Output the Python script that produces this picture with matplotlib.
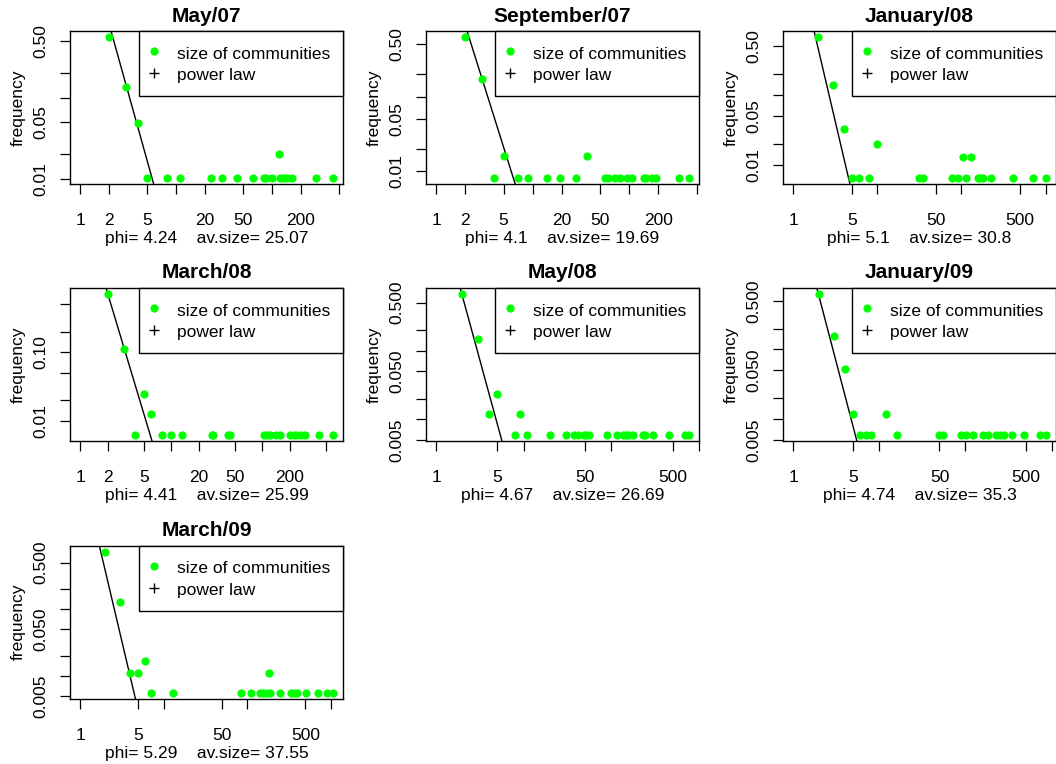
import matplotlib
matplotlib.use("Agg")
import matplotlib.pyplot as plt
from matplotlib.lines import Line2D
import numpy as np

plt.rcParams['font.family'] = ['Liberation Sans', 'DejaVu Sans']

# ---------------- data ----------------
titles = ["May/07", "September/07", "January/08", "March/08",
          "May/08", "January/09", "March/09"]
phi = [4.24, 4.1, 5.1, 4.41, 4.67, 4.74, 5.29]
av_size = [25.07, 19.69, 30.8, 25.99, 26.69, 35.3, 37.55]
plaw_log_c = [1.19, 1.19, 1.18, 1.19, 1.195, 1.19, 1.17]

sizes_may07 = [2, 3, 4, 5, 8, 11, 23, 30, 43, 64, 82, 87, 101, 119, 123, 133, 145, 164, 290, 434]
freq_may07 = [0.561, 0.134, 0.0485, 0.0102, 0.0102, 0.0102, 0.0102, 0.0102, 0.0102, 0.0102,
              0.0102, 0.0102, 0.0102, 0.02, 0.0102, 0.0102, 0.0102, 0.0102, 0.0102, 0.0102]

sizes_sep07 = [2, 3, 4, 5, 7, 9, 14, 19, 28, 37, 56, 60, 71, 81, 95, 108, 143, 150, 171, 188, 330, 416]
freq_sep07 = [0.626, 0.174, 0.0081, 0.016, 0.0081, 0.0081, 0.0081, 0.0081, 0.0081, 0.016, 0.0081,
              0.0081, 0.0081, 0.0081, 0.0081, 0.0081, 0.0081, 0.0081, 0.0081, 0.0081, 0.0081, 0.0081]

sizes_jan08 = [2, 3, 4, 5, 6, 8, 10, 31, 35, 77, 90, 105, 113, 129, 158, 168, 179, 223, 408, 713, 1009]
freq_jan08 = [0.67, 0.140, 0.033, 0.0066, 0.0066, 0.0066, 0.02, 0.0066, 0.0066, 0.0066, 0.0066,
              0.0133, 0.0066, 0.0133, 0.0066, 0.0066, 0.0066, 0.0066, 0.0066, 0.0066, 0.0066]

sizes_mar08 = [2, 3, 4, 5, 6, 8, 10, 13, 28, 29, 42, 44, 103, 111, 120, 140, 155,
               203, 221, 240, 262, 290, 416, 593]
freq_mar08 = [0.708, 0.112, 0.00626, 0.0252, 0.0125, 0.00626, 0.00626, 0.00626, 0.00626, 0.00626,
              0.00626, 0.00626, 0.00626, 0.00626, 0.00626, 0.00626, 0.00626, 0.00626, 0.00626,
              0.00626, 0.00626, 0.00626, 0.00626, 0.00626]

sizes_may08 = [2, 3, 4, 5, 8, 9, 11, 20, 30, 37, 42, 49, 52, 55, 90, 115, 137, 146, 159, 175,
               232, 243, 295, 457, 698, 762]
freq_may08 = [0.668, 0.150, 0.0119, 0.0237, 0.0059, 0.0119, 0.0059, 0.0059, 0.0059, 0.0059,
              0.0059, 0.0059, 0.0059, 0.0059, 0.0059, 0.0059, 0.0059, 0.0059, 0.0059, 0.0059,
              0.0059, 0.0059, 0.0059, 0.0059, 0.0059, 0.0059]

sizes_jan09 = [2, 3, 4, 5, 6, 7, 8, 12, 16, 50, 55, 90, 102, 123, 162, 181, 224, 249, 280,
               351, 484, 738, 859]
freq_jan09 = [0.630, 0.157, 0.0528, 0.0117, 0.00583, 0.00583, 0.00583, 0.0117, 0.00583,
              0.00583, 0.00583, 0.00583, 0.00583, 0.00583, 0.00583, 0.00583, 0.00583,
              0.00583, 0.00583, 0.00583, 0.00583, 0.00583, 0.00583]

sizes_mar09 = [2, 3, 4, 5, 6, 7, 13, 85, 112, 142, 154, 174, 184, 190, 251, 337, 363, 398,
               511, 711, 895, 1067]
freq_mar09 = [0.728, 0.130, 0.0113, 0.0113, 0.0169, 0.00565, 0.00565, 0.00565, 0.00565,
              0.00565, 0.00565, 0.00565, 0.0113, 0.00565, 0.00565, 0.00565, 0.00565,
              0.00565, 0.00565, 0.00565, 0.00565, 0.00565]

all_sizes = [sizes_may07, sizes_sep07, sizes_jan08, sizes_mar08, sizes_may08, sizes_jan09, sizes_mar09]
all_freqs = [freq_may07, freq_sep07, freq_jan08, freq_mar08, freq_may08, freq_jan09, freq_mar09]

x_ticks_a = [1, 2, 5, 10, 20, 50, 100, 200, 500]
x_labels_a = ["1", "2", "5", "", "20", "50", "", "200", ""]
x_ticks_b = [1, 5, 10, 50, 100, 500, 1000]
x_labels_b = ["1", "5", "", "50", "", "500", ""]
y_ticks_a = [0.01, 0.02, 0.05, 0.1, 0.2, 0.5]
y_labels_a = ["0.01", "", "0.05", "", "", "0.50"]
y_labels_c = ["0.01", "", "", "0.10", "", ""]
y_ticks_b = [0.005, 0.01, 0.02, 0.05, 0.1, 0.2, 0.5]
y_labels_b = ["0.005", "", "", "0.050", "", "", "0.500"]

x_axis = [(x_ticks_a, x_labels_a), (x_ticks_a, x_labels_a), (x_ticks_b, x_labels_b),
          (x_ticks_a, x_labels_a), (x_ticks_b, x_labels_b), (x_ticks_b, x_labels_b),
          (x_ticks_b, x_labels_b)]
y_axis = [(y_ticks_a, y_labels_a), (y_ticks_a, y_labels_a), (y_ticks_a, y_labels_a),
          (y_ticks_a, y_labels_c), (y_ticks_b, y_labels_b), (y_ticks_b, y_labels_b),
          (y_ticks_b, y_labels_b)]

legend_labels = ["size of communities", "power law"]

# ---------------- layout ----------------
W, H = 1056, 764
fig = plt.figure(figsize=(W / 100, H / 100), dpi=100)
col_left = [70, 426, 783]
row_top = [31.3, 288.3, 546.0]
ax_w, ax_h = 273, 152.5
FS = 12.5
GREEN = "#00FF00"


def rlim(lo, hi):
    l, h = np.log10(lo), np.log10(hi)
    e = 0.04 * (h - l)
    return 10 ** (l - e), 10 ** (h + e)


for i in range(7):
    r, c = divmod(i, 3)
    left = col_left[c] / W
    bottom = 1 - (row_top[r] + ax_h) / H
    ax = fig.add_axes([left, bottom, ax_w / W, ax_h / H])
    ax.set_xscale("log")
    ax.set_yscale("log")
    s = np.array(all_sizes[i], dtype=float)
    f = np.array(all_freqs[i], dtype=float)
    ax.set_xlim(*rlim(1, s.max()))
    ax.set_ylim(*rlim(f.min(), f.max()))

    ax.plot(s, f, 'o', color=GREEN, ms=4.9, mec=GREEN, zorder=3)
    xs = np.array([1.0, s.max()])
    ax.plot(xs, 10 ** plaw_log_c[i] * xs ** (-phi[i]), color="black", lw=1.0, zorder=2)

    xt, xl = x_axis[i]
    yt, yl = y_axis[i]
    ax.xaxis.set_minor_locator(matplotlib.ticker.NullLocator())
    ax.yaxis.set_minor_locator(matplotlib.ticker.NullLocator())
    ax.set_xticks(xt)
    ax.set_xticklabels(xl)
    ax.set_yticks(yt)
    ax.set_yticklabels(yl)
    ax.tick_params(axis='both', length=7.2, width=0.9, labelsize=FS, direction='out')
    ax.tick_params(axis='x', pad=14.0)
    ax.tick_params(axis='y', pad=8.2, labelrotation=90)
    for lab in ax.get_yticklabels():
        lab.set_va('center')
    for sp in ax.spines.values():
        sp.set_linewidth(1.0)

    ax.set_title(titles[i], fontsize=15, fontweight='bold', y=1 + 15.3 / ax_h, va='center', pad=0)
    ax.set_ylabel("frequency", fontsize=FS, va='center')
    ax.yaxis.set_label_coords(-52 / ax_w, 0.5)
    ax.set_xlabel(f"phi= {phi[i]}    av.size= {av_size[i]}", fontsize=FS, va='center')
    ax.xaxis.set_label_coords(0.5, -54.7 / ax_h)

    handles = [Line2D([], [], marker='o', color=GREEN, ls='none', ms=4.9),
               Line2D([], [], marker='+', color='black', ls='none', ms=7.5, mew=1.0)]
    leg = ax.legend(handles, legend_labels, loc='upper right', bbox_to_anchor=(1, 1),
                    borderaxespad=0, frameon=True, fancybox=False, edgecolor='black',
                    framealpha=1, fontsize=FS, borderpad=0.715, handlelength=0.3,
                    handleheight=1.22, handletextpad=1.17, labelspacing=0.22)
    leg.get_frame().set_linewidth(1.0)

fig.savefig("out.png", dpi=100)
